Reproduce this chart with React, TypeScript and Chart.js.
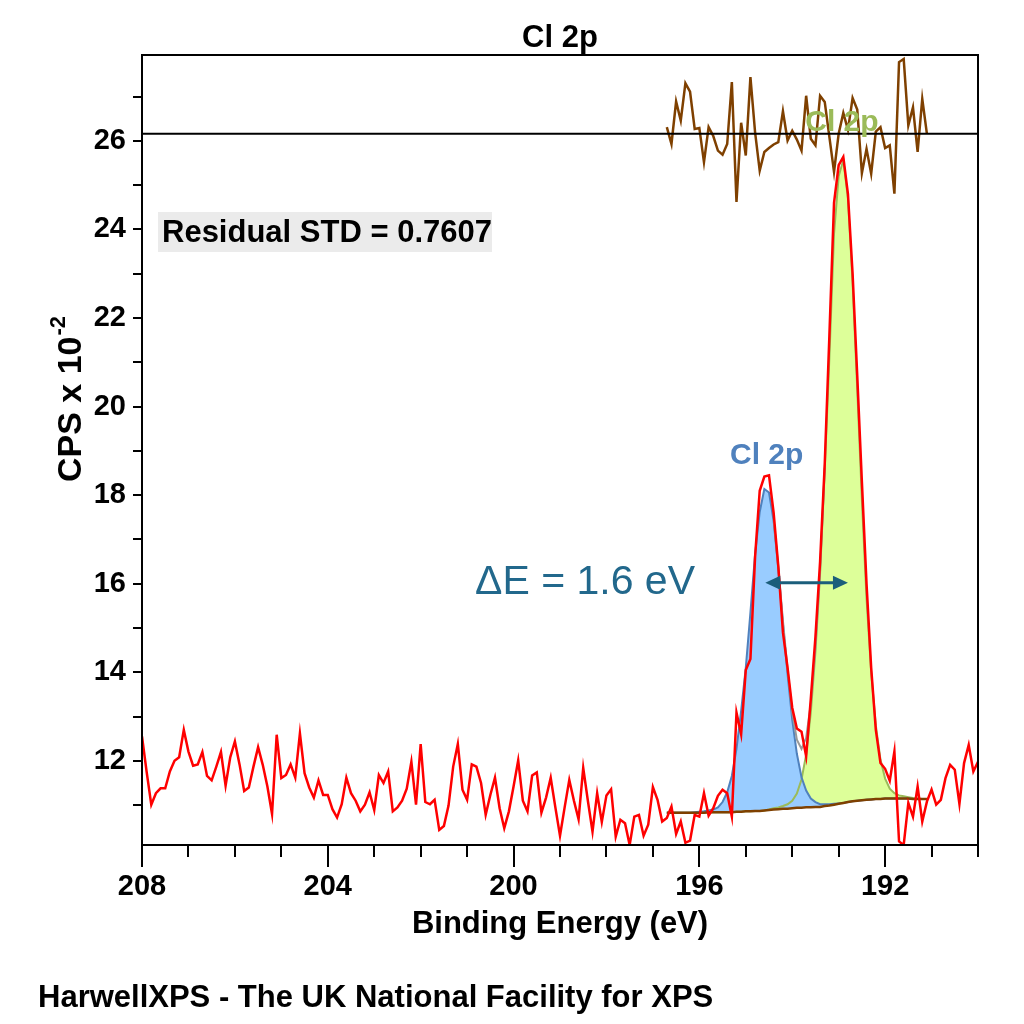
import React, { useEffect, useRef } from 'react';
import { Chart, registerables } from 'chart.js';

Chart.register(...registerables);

const FONT = '"Liberation Sans", Arial, Helvetica, sans-serif';

// Binding-energy grid of the measured spectrum (eV)
const energyStart = 208;
const energyStep = 0.1;

// Measured spectrum (CPS x 10^-2), one value per grid step from 208 eV down to 190 eV
const counts = [
  12.55, 11.75, 11.01, 11.27, 11.38, 11.38, 11.76, 12.0, 12.08, 12.7,
  12.21, 11.89, 11.92, 12.2, 11.66, 11.56, 11.87, 12.2, 11.44, 12.08,
  12.44, 11.92, 11.32, 11.4, 11.87, 12.31, 11.91, 11.42, 10.8, 12.59,
  11.61, 11.68, 11.92, 11.62, 12.62, 11.72, 11.4, 11.17, 11.56, 11.23,
  11.23, 10.91, 10.72, 11.02, 11.62, 11.27, 11.1, 10.86, 11.01, 11.29,
  10.89, 11.68, 11.5, 11.76, 10.86, 10.95, 11.1, 11.37, 11.98, 11.01,
  12.38, 11.07, 11.02, 11.12, 10.44, 10.53, 10.99, 11.87, 12.38, 11.35,
  11.12, 11.92, 11.87, 11.5, 10.78, 11.23, 11.62, 10.93, 10.48, 10.86,
  11.42, 12.01, 11.1, 10.86, 11.67, 11.74, 10.83, 11.17, 11.62, 10.95,
  10.31, 10.95, 11.57, 11.1, 10.68, 11.84, 11.1, 10.4, 11.27, 10.62,
  11.22, 11.36, 10.29, 10.67, 10.59, 10.1, 10.74, 10.78, 10.31, 10.56,
  11.41, 11.12, 10.63, 10.71, 10.97, 10.35, 10.63, 10.15, 10.2, 10.78,
  10.74, 11.27, 10.76, 10.93, 11.21, 11.35, 11.27, 10.74, 13.09, 12.6,
  14.05, 14.3, 16.6, 18.1, 18.42, 18.45, 17.6, 16.4, 14.9, 14.1,
  13.2, 12.73, 12.66, 12.1, 13.4, 14.8, 16.5, 18.7, 21.6, 24.6,
  25.45, 25.64, 24.8, 23.0, 20.7, 18.3, 16.0, 14.1, 12.7, 11.95,
  11.82, 11.55, 12.21, 10.18, 10.1, 11.05, 10.74, 11.42, 10.63, 11.08,
  11.35, 11.01, 11.12, 11.61, 11.91, 11.8, 11.03, 11.95, 12.36, 11.76, 11.98,
];

// Fit region (grid index where the background and components begin)
const fitStartIndex = 113;

const background = [
  10.83, 10.83, 10.83, 10.83, 10.83, 10.83, 10.83, 10.83, 10.83, 10.84,
  10.84, 10.84, 10.84, 10.84, 10.84, 10.85, 10.85, 10.86, 10.86, 10.87,
  10.87, 10.88, 10.89, 10.9, 10.91, 10.92, 10.92, 10.93, 10.94, 10.94,
  10.95, 10.95, 10.96, 10.96, 10.98, 10.99, 11.01, 11.03, 11.05, 11.07,
  11.09, 11.1, 11.11, 11.12, 11.13, 11.14, 11.14, 11.15, 11.15, 11.15,
  11.15, 11.15, 11.15, 11.14, 11.14, 11.14, 11.14,
];

const blueComponent = [
  10.83, 10.83, 10.83, 10.83, 10.83, 10.83, 10.84, 10.85, 10.86, 10.88,
  10.9, 10.95, 11.07, 11.29, 11.66, 12.27, 13.13, 14.1, 15.35, 16.66,
  17.62, 18.14, 18.06, 17.42, 16.34, 15.1, 13.96, 12.93, 12.16, 11.63,
  11.33, 11.15, 11.07, 11.02, 11.02, 11.02, 11.03, 11.04, 11.05, 11.07,
  11.09, 11.1, 11.11, 11.12, 11.13, 11.14, 11.14, 11.15, 11.15, 11.15,
  11.15, 11.15, 11.15, 11.14, 11.14, 11.14, 11.14,
];

const greenComponent = [
  10.83, 10.83, 10.83, 10.83, 10.83, 10.83, 10.83, 10.83, 10.83, 10.84,
  10.84, 10.84, 10.84, 10.84, 10.84, 10.85, 10.85, 10.86, 10.86, 10.87,
  10.87, 10.88, 10.9, 10.93, 10.95, 10.98, 11.02, 11.1, 11.26, 11.58,
  12.14, 13.09, 14.47, 16.24, 18.58, 21.1, 23.9, 25.2, 25.57, 24.7,
  22.8, 20.4, 17.9, 15.67, 14.0, 12.8, 12.03, 11.6, 11.37, 11.27,
  11.22, 11.2, 11.18, 11.16, 11.15, 11.14, 11.14,
];

// Fit envelope, visible between the two peaks
const envelopeStartIndex = 136;
const envelope = [17.45, 16.38, 15.16, 14.06, 13.1, 12.48, 12.27, 12.52, 13.29, 14.58, 16.3, 18.62];

// Residual (same units, drawn about its own zero line)
const residualStartIndex = 113;
const residualZero = 26.16;
const residual = [
  0.15, -0.23, 0.73, 0.3, 1.14, 0.95, 0.11, 0.13, -0.64, 0.15,
  -0.05, -0.38, -0.47, -0.23, 1.17, -1.54, 0.25, -0.49, 1.28, 0.04,
  -0.83, -0.41, -0.32, -0.24, -0.19, 0.51, -0.15, 0.07, -0.13, -0.38,
  0.86, -0.11, -0.26, 0.86, 0.72, -0.07, -0.86, 0.0, 0.47, 0.09,
  0.81, 0.55, -0.89, -0.34, -0.9, 0.05, 0.15, -0.32, -0.26, -1.35,
  1.62, 1.69, 0.19, 0.6, -0.41, 0.79, 0.0,
];

const xMin = 190;
const xMax = 208;
const yMin = 10.1;
const yMax = 27.94;
const xTickLabels = [208, 204, 200, 196, 192];
const yTickLabels = [12, 14, 16, 18, 20, 22, 24, 26];

const peakLabels = ['Cl 2p', 'Cl 2p'];
const peakLabelEnergy = [194.55, 192.93];
const peakLabelLevel = [18.9, 26.42];
const peakLabelColors = ['#4f81bd', '#9bbb59'];

const arrowFrom = 194.58;
const arrowTo = 192.8;
const arrowLevel = 16.02;

const titleText = 'Cl 2p';
const xTitleText = 'Binding Energy (eV)';
const yTitleMain = 'CPS x 10';
const yTitleSup = '-2';
const residualText = 'Residual STD = 0.7607';
const deltaText = 'ΔE = 1.6 eV';
const footerText = 'HarwellXPS - The UK National Facility for XPS';

function energyAt(i: number) {
  return Math.round((energyStart - i * energyStep) * 1000) / 1000;
}
function toPoints(values: number[], start: number) {
  return values.map((y, k) => ({ x: energyAt(start + k), y }));
}

const decorPlugin = {
  id: 'decor',
  afterDraw(chart: any) {
    const { ctx, chartArea: a, scales } = chart;
    const xs = scales.x;
    const ys = scales.y;
    ctx.save();
    ctx.strokeStyle = '#000';
    ctx.lineWidth = 2;
    ctx.strokeRect(a.left, a.top, a.right - a.left, a.bottom - a.top);

    ctx.beginPath();
    xs.ticks.forEach((t: any) => {
      const px = Math.round(xs.getPixelForValue(t.value));
      const len = xTickLabels.includes(t.value) ? 22 : 12;
      ctx.moveTo(px, a.bottom);
      ctx.lineTo(px, a.bottom + len);
    });
    ys.ticks.forEach((t: any) => {
      const py = Math.round(ys.getPixelForValue(t.value));
      ctx.moveTo(a.left - 9, py);
      ctx.lineTo(a.left, py);
    });
    ctx.stroke();

    const cx = (a.left + a.right) / 2;
    ctx.fillStyle = '#000';
    ctx.textBaseline = 'middle';
    ctx.textAlign = 'center';
    ctx.font = `bold 31px ${FONT}`;
    ctx.fillText(titleText, cx, 38);
    ctx.fillText(xTitleText, cx, 924);

    ctx.textAlign = 'left';
    ctx.fillText(footerText, 38, 998);

    // y title with superscript
    ctx.save();
    ctx.translate(72, 482);
    ctx.rotate(-Math.PI / 2);
    ctx.font = `bold 34px ${FONT}`;
    ctx.textAlign = 'left';
    ctx.fillText(yTitleMain, 0, 0);
    const w = ctx.measureText(yTitleMain).width;
    ctx.font = `bold 22px ${FONT}`;
    ctx.fillText(yTitleSup, w + 1, -13);
    ctx.restore();

    // residual STD box
    ctx.fillStyle = '#ebebeb';
    ctx.fillRect(a.left + 16, 212, 334, 40);
    ctx.fillStyle = '#000';
    ctx.font = `bold 31px ${FONT}`;
    ctx.textAlign = 'left';
    ctx.fillText(residualText, a.left + 20, 233);

    // peak labels
    ctx.font = `bold 30px ${FONT}`;
    ctx.textAlign = 'center';
    peakLabels.forEach((lab, i) => {
      ctx.fillStyle = peakLabelColors[i];
      ctx.fillText(lab, xs.getPixelForValue(peakLabelEnergy[i]), ys.getPixelForValue(peakLabelLevel[i]));
    });

    // delta E arrow
    const ay = ys.getPixelForValue(arrowLevel);
    const ax1 = xs.getPixelForValue(arrowFrom);
    const ax2 = xs.getPixelForValue(arrowTo);
    ctx.strokeStyle = '#1b5e7b';
    ctx.fillStyle = '#1b5e7b';
    ctx.lineWidth = 3;
    ctx.beginPath();
    ctx.moveTo(ax1 + 10, ay);
    ctx.lineTo(ax2 - 10, ay);
    ctx.stroke();
    ctx.beginPath();
    ctx.moveTo(ax1, ay);
    ctx.lineTo(ax1 + 15, ay - 7);
    ctx.lineTo(ax1 + 15, ay + 7);
    ctx.closePath();
    ctx.moveTo(ax2, ay);
    ctx.lineTo(ax2 - 15, ay - 7);
    ctx.lineTo(ax2 - 15, ay + 7);
    ctx.closePath();
    ctx.fill();

    ctx.fillStyle = '#22688c';
    ctx.font = `41px ${FONT}`;
    ctx.textAlign = 'right';
    ctx.fillText(deltaText, 695, ay);
    ctx.restore();
  },
};

export default function App() {
  const ref = useRef<HTMLCanvasElement | null>(null);

  useEffect(() => {
    const canvas = ref.current;
    if (!canvas) return;
    const chart = new Chart(canvas, {
      type: 'line',
      data: {
        datasets: [
          {
            data: [{ x: xMin, y: 0 }, { x: xMax, y: 0 }],
            yAxisID: 'yr',
            borderColor: '#000',
            borderWidth: 2,
            order: 0,
          },
          {
            data: toPoints(residual, residualStartIndex),
            yAxisID: 'yr',
            borderColor: '#7f4000',
            borderWidth: 2.5,
            order: 1,
          },
          {
            data: toPoints(counts, 0),
            borderColor: '#ff0000',
            borderWidth: 2.5,
            order: 2,
          },
          {
            data: toPoints(background, fitStartIndex),
            borderColor: '#7f4000',
            borderWidth: 2.5,
            order: 3,
          },
          {
            data: toPoints(envelope, envelopeStartIndex),
            borderColor: '#999999',
            borderWidth: 2,
            order: 4,
          },
          {
            data: toPoints(blueComponent, fitStartIndex),
            borderColor: '#4f81bd',
            backgroundColor: '#99ccff',
            borderWidth: 2,
            fill: 3,
            order: 5,
          },
          {
            data: toPoints(greenComponent, fitStartIndex),
            borderColor: '#9bbb59',
            backgroundColor: '#ddff99',
            borderWidth: 2,
            fill: 3,
            order: 6,
          },
        ],
      },
      options: {
        responsive: false,
        animation: false,
        devicePixelRatio: 1,
        layout: { padding: { left: 0, top: 55, right: 46, bottom: 0 } },
        elements: { point: { radius: 0 }, line: { tension: 0 } },
        plugins: {
          legend: { display: false },
          tooltip: { enabled: false },
          title: { display: false },
          filler: { drawTime: 'beforeDatasetsDraw' },
        },
        scales: {
          x: {
            type: 'linear',
            position: 'bottom',
            reverse: true,
            min: xMin,
            max: xMax,
            afterFit: (s: any) => {
              s.height = 179;
            },
            grid: { drawOnChartArea: false, drawTicks: false },
            border: { display: false },
            ticks: {
              stepSize: 1,
              autoSkip: false,
              maxRotation: 0,
              minRotation: 0,
              padding: 25,
              color: '#000',
              font: { family: FONT, size: 29, weight: 'bold' },
              callback: (v: any) => (xTickLabels.includes(Number(v)) ? String(v) : ''),
            },
          },
          y: {
            type: 'linear',
            position: 'left',
            min: yMin,
            max: yMax,
            afterFit: (s: any) => {
              s.width = 142;
            },
            grid: { drawOnChartArea: false, drawTicks: false },
            border: { display: false },
            ticks: {
              stepSize: 1,
              includeBounds: false,
              autoSkip: false,
              padding: 16,
              color: '#000',
              font: { family: FONT, size: 29, weight: 'bold' },
              callback: (v: any) => (yTickLabels.includes(Number(v)) ? String(v) : ''),
            },
          },
          yr: {
            type: 'linear',
            display: false,
            min: yMin - residualZero,
            max: yMax - residualZero,
          },
        },
      } as any,
      plugins: [decorPlugin],
    });
    return () => chart.destroy();
  }, []);

  return (
    <div style={{ position: 'fixed', left: 0, top: 0, width: 1024, height: 1024, background: '#fff' }}>
      <canvas ref={ref} width={1024} height={1024} style={{ display: 'block' }} />
    </div>
  );
}
